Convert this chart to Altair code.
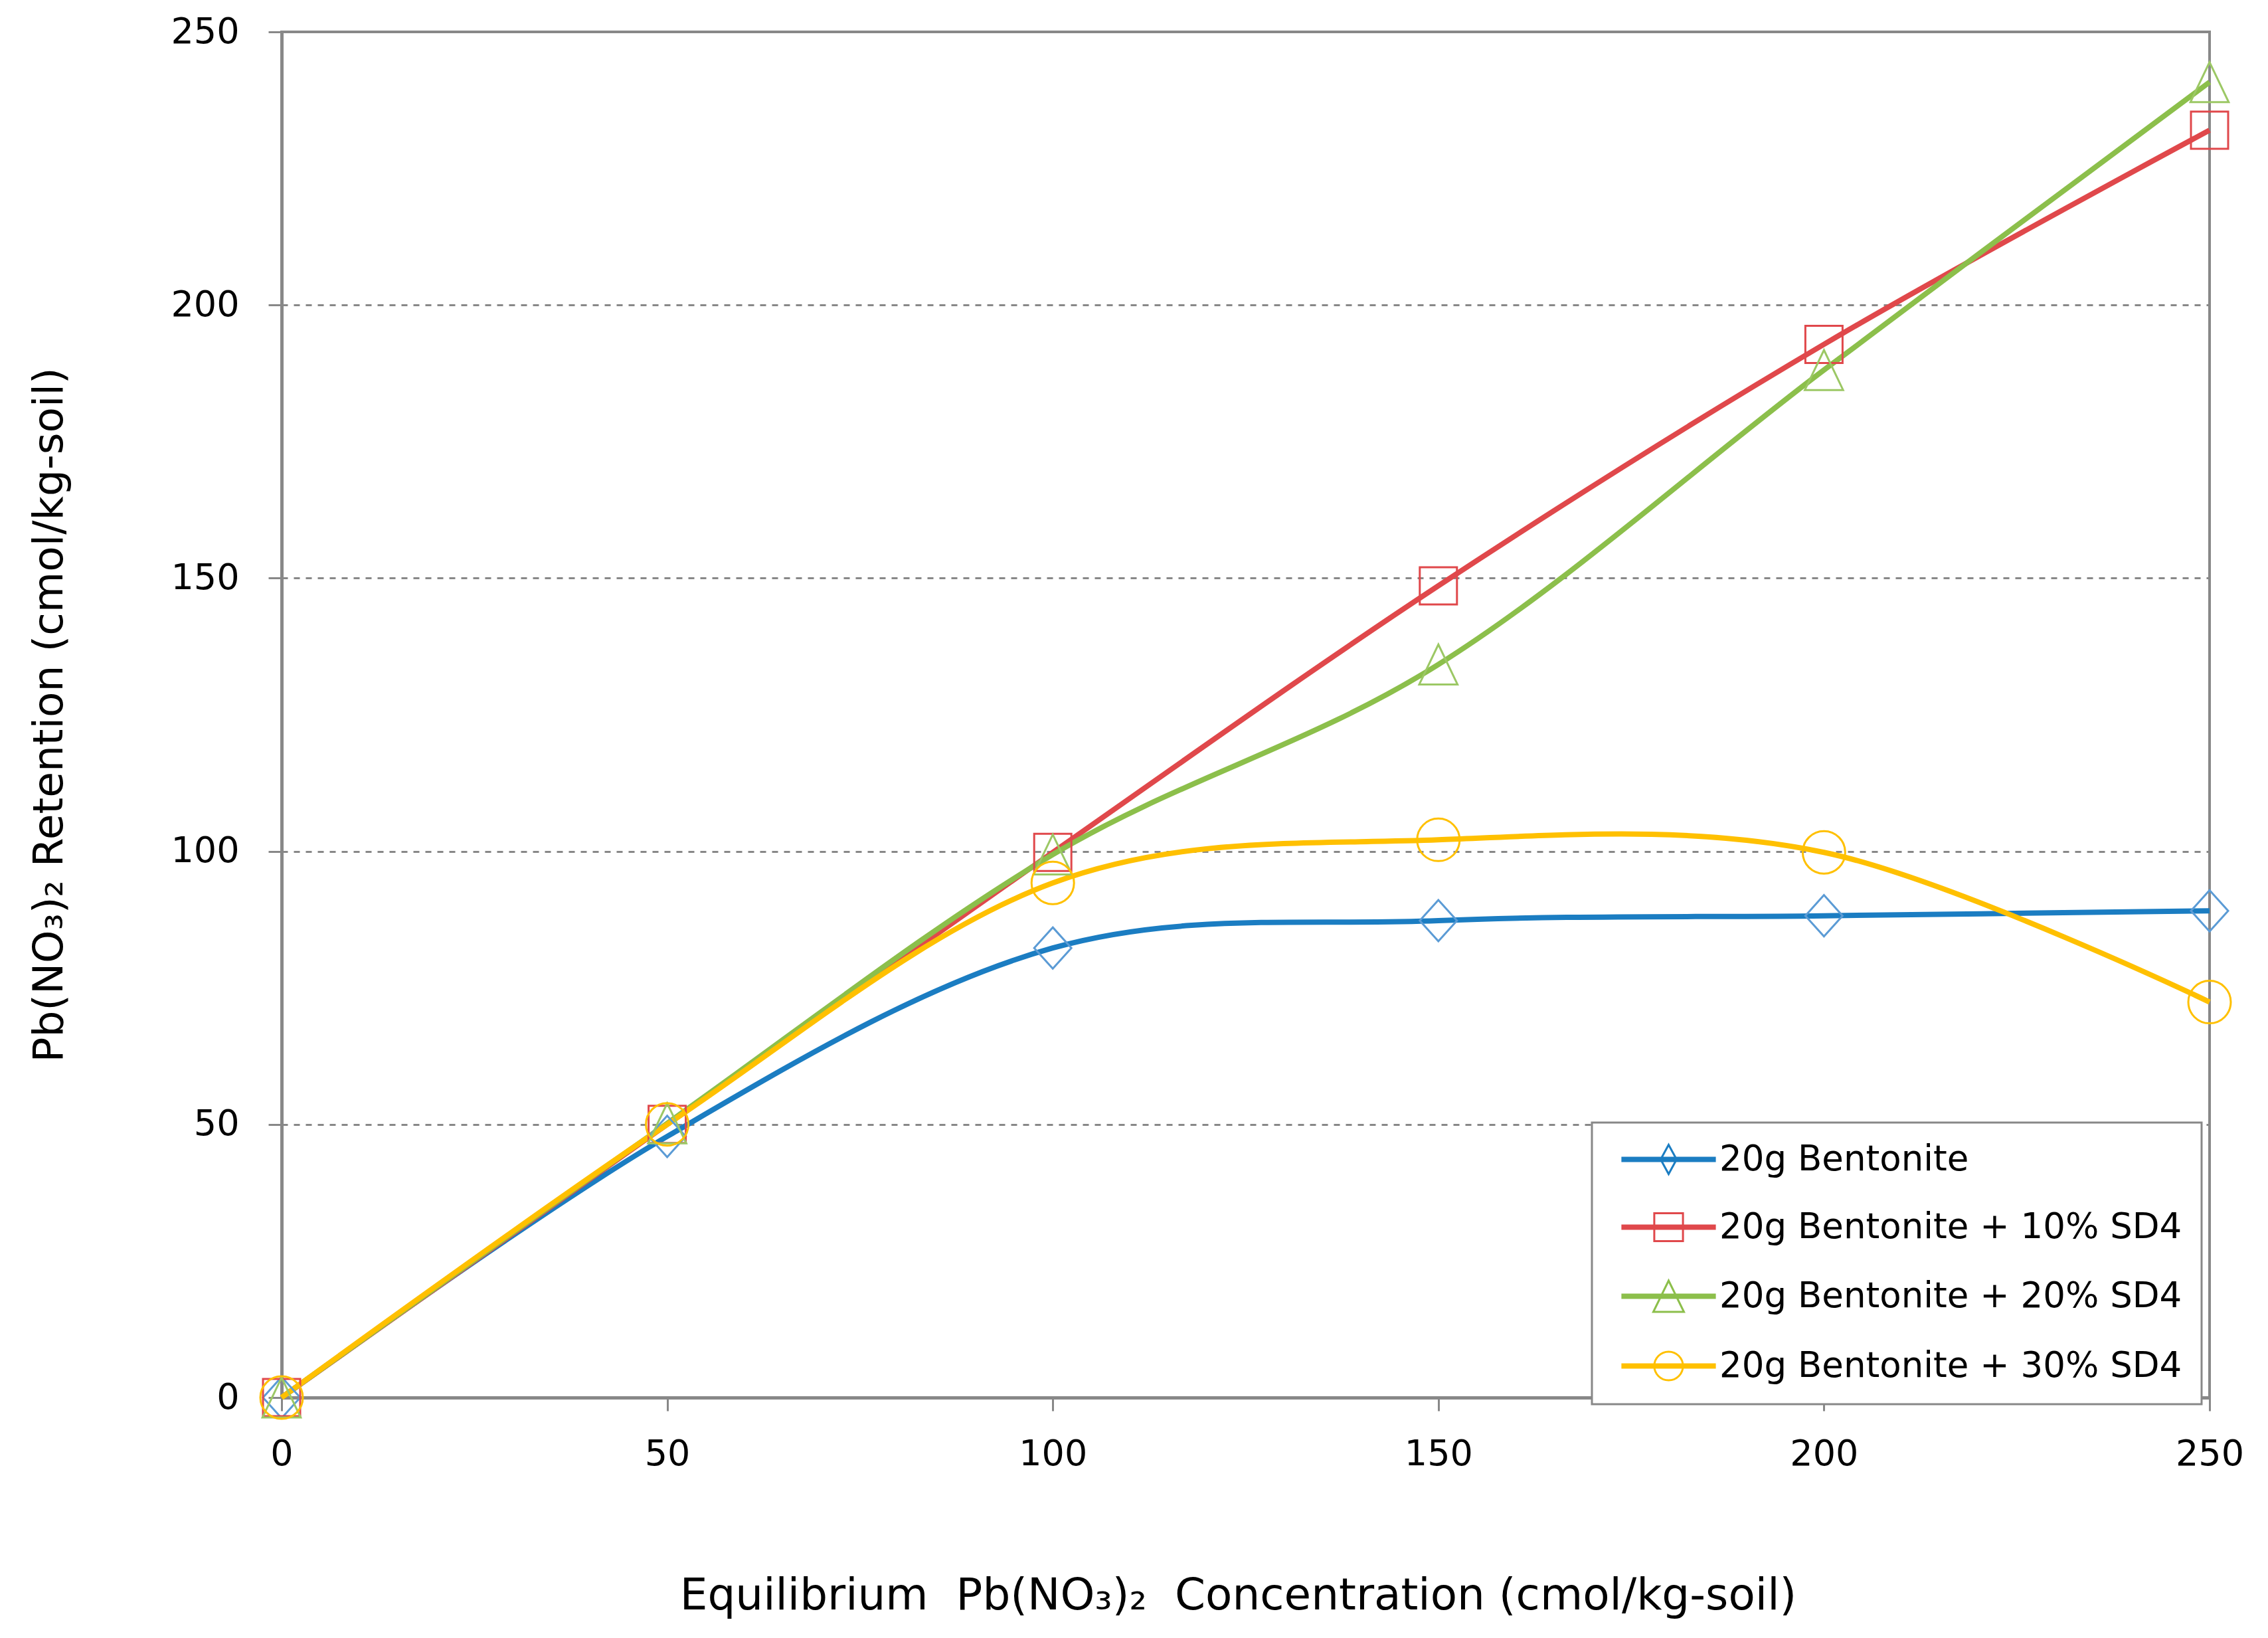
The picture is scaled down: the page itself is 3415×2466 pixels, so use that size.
import altair as alt
import pandas as pd

# ---- data ----
conc = [0, 50, 100, 150, 200, 250]
series_names = [
    "20g Bentonite",
    "20g Bentonite + 10% SD4",
    "20g Bentonite + 20% SD4",
    "20g Bentonite + 30% SD4",
]
bentonite = [0, 47.8, 82.3, 87.3, 88.2, 89.1]
sd4_10 = [0, 50.0, 99.8, 148.6, 192.8, 232.0]
sd4_20 = [0, 50.2, 99.4, 134.2, 188.1, 240.8]
sd4_30 = [0, 50.0, 94.2, 102.1, 99.8, 72.4]

x_ticks = [0, 50, 100, 150, 200, 250]
y_ticks = [0, 50, 100, 150, 200, 250]

x_title = "Equilibrium\u00a0 Pb(NO\u2083)\u2082\u00a0 Concentration (cmol/kg-soil)"
y_title = "Pb(NO\u2083)\u2082 Retention (cmol/kg-soil)"

# ---- styles ----
line_colors = ["#1B7DC2", "#E0484B", "#8CBF4B", "#FFC000"]
marker_colors = ["#5B9BD5", "#E0484B", "#9CC865", "#FFC000"]

# plot markers (unit box -1..1)
marker_paths = [
    "M0,-0.97 L0.875,0 L0,0.97 L-0.875,0 Z",
    "M-0.875,-0.875 L0.875,-0.875 L0.875,0.875 L-0.875,0.875 Z",
    "M0,-0.94 L0.9,0.94 L-0.9,0.94 Z",
    "M-1,0 A1,1 0 1,0 1,0 A1,1 0 1,0 -1,0 Z",
]
# legend symbols: a line segment through the marker
seg = "M-2.9,-0.1 L2.9,-0.1 L2.9,0.1 L-2.9,0.1 Z M-2.9,0 L2.9,0 "
legend_paths = [
    seg + "M0,-0.92 L0.5,0 L0,0.92 L-0.5,0 Z",
    seg + "M-0.9,-0.88 L0.9,-0.88 L0.9,0.88 L-0.9,0.88 Z",
    seg + "M0,-0.98 L0.96,0.98 L-0.96,0.98 Z",
    seg + "M-0.9,0 A0.9,0.9 0 1,0 0.9,0 A0.9,0.9 0 1,0 -0.9,0 Z",
]

rows = []
for name, vals in zip(series_names, [bentonite, sd4_10, sd4_20, sd4_30]):
    for xv, yv in zip(conc, vals):
        rows.append({"series": name, "conc": xv, "ret": yv})
df = pd.DataFrame(rows)

FONT = "DejaVu Sans, Liberation Sans, sans-serif"
GRAY = "#888888"

x_enc = alt.X(
    "conc:Q",
    scale=alt.Scale(domain=[0, 250], nice=False),
    axis=alt.Axis(
        values=x_ticks, grid=False, title=x_title, labelFlush=False,
        titleBaseline="alphabetic", titleY=318, titleX=1440,
    ),
)
y_enc = alt.Y(
    "ret:Q",
    scale=alt.Scale(domain=[0, 250], nice=False),
    axis=alt.Axis(
        values=y_ticks, grid=True, title=y_title, labelFlush=False,
        titleX=-350, titleY=1028, titleBaseline="middle",
    ),
)

base = alt.Chart(df)

lines = base.mark_line(interpolate="cardinal", strokeWidth=8).encode(
    x=x_enc, y=y_enc,
    color=alt.Color("series:N", scale=alt.Scale(domain=series_names, range=line_colors), legend=None),
)

points = base.mark_point(filled=False, strokeWidth=3, size=4096, opacity=1).encode(
    x=x_enc, y=y_enc,
    stroke=alt.Stroke("series:N", scale=alt.Scale(domain=series_names, range=marker_colors), legend=None),
    shape=alt.Shape("series:N", scale=alt.Scale(domain=series_names, range=marker_paths), legend=None),
)

legend = alt.Legend(
    title=None, orient="none", legendX=1973, legendY=1642,
    labelFont=FONT, labelFontSize=53, labelColor="#000000", labelLimit=2000,
    symbolSize=2304, symbolStrokeWidth=3, symbolOffset=60, labelOffset=50,
    padding=29, rowPadding=46, strokeColor=GRAY, fillColor="#FFFFFF",
)

legend_layer = base.transform_filter("false").mark_point(filled=False, strokeWidth=3, opacity=1).encode(
    x=x_enc, y=y_enc,
    stroke=alt.Stroke("series:N", scale=alt.Scale(domain=series_names, range=line_colors), legend=legend),
    shape=alt.Shape("series:N", scale=alt.Scale(domain=series_names, range=legend_paths), legend=legend),
)

chart = (
    alt.layer(lines, points, legend_layer)
    .resolve_scale(stroke="independent", shape="independent")
    .resolve_legend(stroke="independent", shape="independent")
    .properties(
        width=2903, height=2056,
        autosize=alt.AutoSizeParams(type="none"),
        padding={"left": 416, "top": 40, "right": 80, "bottom": 350},
        background="#FFFFFF",
    )
    .configure_view(stroke=GRAY, strokeWidth=4)
    .configure_axis(
        domainColor=GRAY, domainWidth=5, tickColor=GRAY, tickWidth=3, tickSize=20,
        labelFont=FONT, labelFontSize=54, labelColor="#000000",
        titleFont=FONT, titleFontWeight="normal", titleColor="#000000",
        gridColor=GRAY, gridWidth=3, gridDash=[9, 9],
    )
    .configure_axisX(labelPadding=38, titleFontSize=66)
    .configure_axisY(labelPadding=44, titleFontSize=63)
    .configure_legend(strokeWidth=3)
)

chart.save("out.html", embed_options={"renderer": "svg", "actions": False})
